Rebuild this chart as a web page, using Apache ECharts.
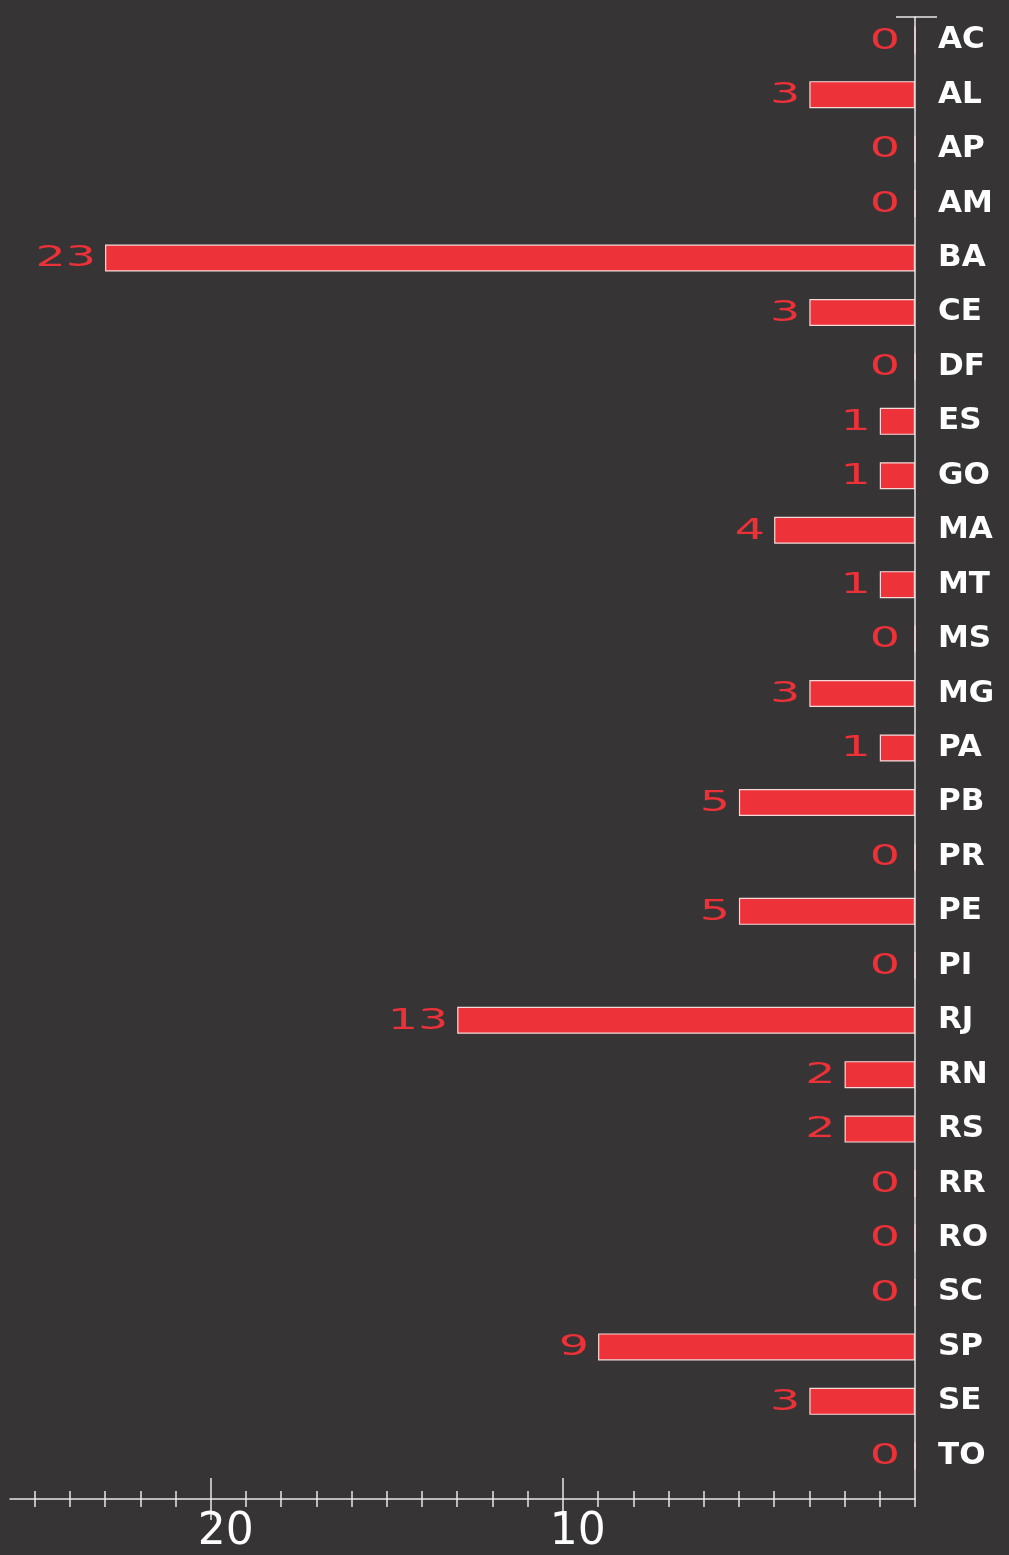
<!DOCTYPE html>
<html>
<head>
<meta charset="utf-8">
<script src="https://cdn.jsdelivr.net/npm/echarts@6/dist/echarts.min.js"></script>
<style>
html,body{margin:0;padding:0;background:#363435}
#main{width:1009px;height:1555px}
</style>
</head>
<body>
<div id="main"></div>
<script>
// casos por estado
const states = ['AC','AL','AP','AM','BA','CE','DF','ES','GO','MA','MT','MS','MG','PA','PB','PR','PE','PI','RJ','RN','RS','RR','RO','SC','SP','SE','TO'];
const counts = [0,3,0,0,23,3,0,1,1,4,1,0,3,1,5,0,5,0,13,2,2,0,0,0,9,3,0];
const minorTicks = [0,1,2,3,4,5,6,7,8,9,10,11,12,13,14,15,16,17,18,19,20,21,22,23,24,25];
const majorTicks = [10,20];
const xMax = 25.7;

const red = '#ee3239';
const white = '#e8e8e8';

const chart = echarts.init(document.getElementById('main'));

// base x axis, the grid index and the rest are filled in below
function xa(grid, extra){
    return Object.assign({
        gridIndex: grid, type: 'value', inverse: true, min: 0, max: xMax, position: 'bottom',
        axisLine: {show: false}, axisTick: {show: false}, axisLabel: {show: false}, splitLine: {show: false}
    }, extra);
}
function ya(extra){
    return Object.assign({
        gridIndex: 1, type: 'value', min: 0, max: 1, position: 'right',
        axisLine: {show: false}, axisTick: {show: false}, axisLabel: {show: false}, splitLine: {show: false}
    }, extra);
}

const option = {
    backgroundColor: '#363435',
    animation: false,
    grid: [
        {left: 10, right: 94, top: 13, bottom: 72},   // bars + category labels
        {left: 10, right: 94, top: 17, bottom: 56}    // axis lines
    ],
    xAxis: [
        xa(0, {}),
        xa(1, {
            axisLine: {show: true, lineStyle: {color: white, width: 1.5}},
            axisTick: {show: true, customValues: minorTicks, length: 8, lineStyle: {color: white, width: 1.5}},
            axisLabel: {show: true, customValues: majorTicks, color: '#ffffff', fontSize: 44,
                fontFamily: 'DejaVu Sans', margin: 12, padding: [0, 0, 0, 30]}
        }),
        xa(1, {axisTick: {show: true, inside: true, customValues: minorTicks.slice(1), length: 8, lineStyle: {color: white, width: 1.5}}}),
        xa(1, {axisTick: {show: true, customValues: majorTicks, length: 21, lineStyle: {color: white, width: 1.5}}}),
        xa(1, {axisTick: {show: true, inside: true, customValues: majorTicks, length: 21, lineStyle: {color: white, width: 1.5}}})
    ],
    yAxis: [
        {
            gridIndex: 0, type: 'category', data: states, inverse: true, position: 'right',
            axisLine: {show: false}, axisTick: {show: false},
            axisLabel: {color: '#ffffff', fontSize: 31, fontWeight: 'bold', fontFamily: 'DejaVu Sans', margin: 23}
        },
        ya({
            axisLine: {show: true, lineStyle: {color: white, width: 1.5}},
            axisTick: {show: true, customValues: [1], length: 22, lineStyle: {color: white, width: 1.5}}
        }),
        ya({axisTick: {show: true, inside: true, customValues: [1], length: 19, lineStyle: {color: white, width: 1.5}}})
    ],
    series: [
        {
            type: 'bar',
            xAxisIndex: 0, yAxisIndex: 0,
            data: counts,
            barWidth: 27,
            itemStyle: {color: red, borderColor: '#f6dada', borderWidth: 1.2}
        },
        {
            // value labels, stretched wide like the original
            type: 'custom',
            xAxisIndex: 0, yAxisIndex: 0,
            data: counts.map((v, i) => [v, i]),
            encode: {x: 0, y: 1},
            z: 5,
            renderItem: function(params, api){
                const v = api.value(0);
                const p = api.coord([v, api.value(1)]);
                const gap = v === 0 ? 15 : 9;
                return {
                    type: 'text',
                    x: p[0] - gap, y: p[1] + 1,
                    scaleX: 1.7,
                    style: {
                        text: String(v), x: 0, y: 0,
                        align: 'right', verticalAlign: 'middle',
                        fill: '#ec3138', font: '28px "DejaVu Sans"'
                    }
                };
            }
        }
    ]
};

chart.setOption(option);
</script>
</body>
</html>
